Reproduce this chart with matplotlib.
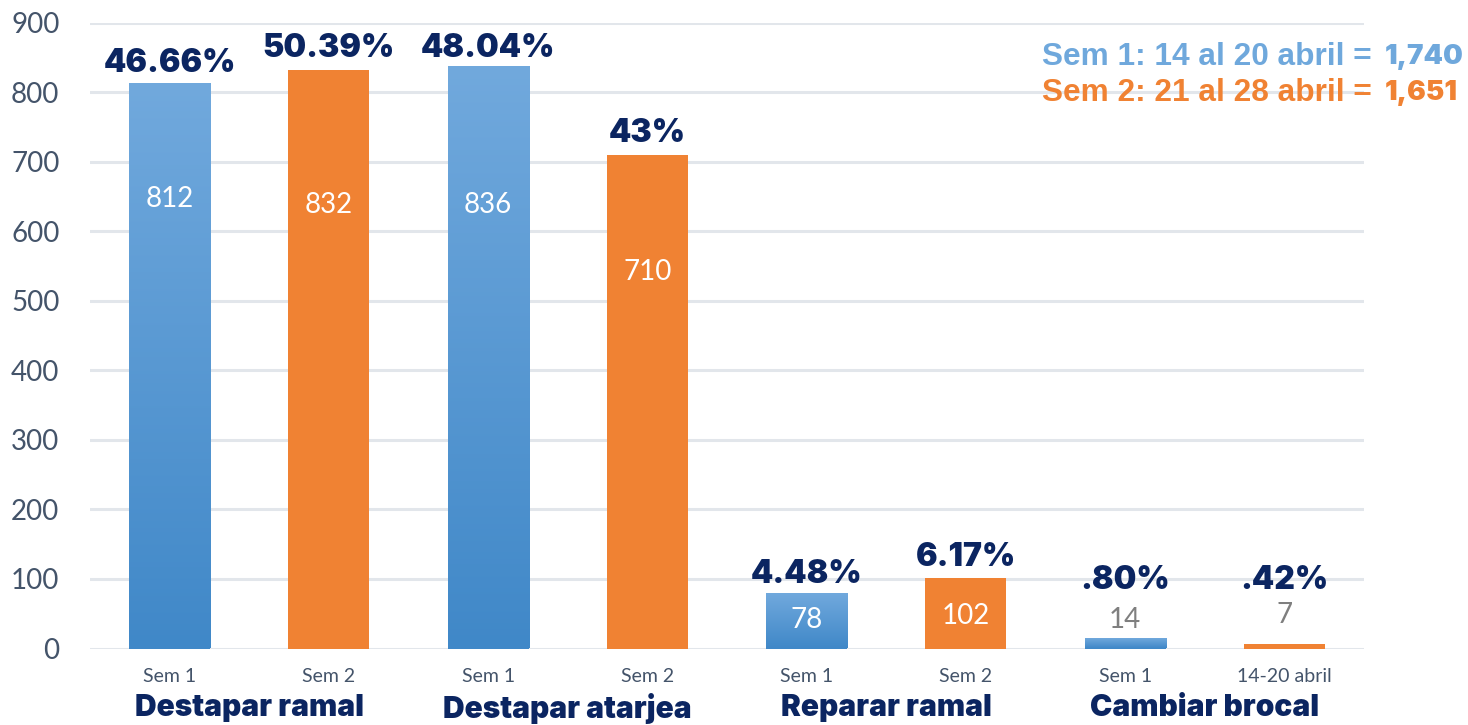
import numpy as np
import matplotlib
matplotlib.use("Agg")
import matplotlib.pyplot as plt
import matplotlib.transforms as mtransforms
from matplotlib.colors import LinearSegmentedColormap

# ---------------- data ----------------
tick_labels = ["Sem 1", "Sem 2", "Sem 1", "Sem 2", "Sem 1", "Sem 2", "Sem 1", "14-20 abril"]
values = [812, 832, 836, 710, 78, 102, 14, 7]
percents = ["46.66%", "50.39%", "48.04%", "43%", "4.48%", "6.17%", ".80%", ".42%"]
series = [1, 2, 1, 2, 1, 2, 1, 2]
categories = ["Destapar ramal", "Destapar atarjea", "Reparar ramal", "Cambiar brocal"]
legend_text = ["Sem 1: 14 al 20 abril = ", "Sem 2: 21 al 28 abril = "]
legend_totals = ["1,740", "1,651"]

# ---------------- layout (label positions, in data units) ----------------
value_label_y = [646, 638, 638, 542, 41, 47, 41, 48]
pct_label_y = [841, 863, 863, 741, 107, 131, 98, 98]
value_inside = [True, True, True, True, True, True, False, False]

NAVY = "#0b2561"
BLUE_TOP = "#71a9dd"
BLUE_BOT = "#4088c8"
ORANGE = "#f08233"
AXIS_TXT = "#44546a"
GRID = "#e2e6eb"
HEAVY = "Inter"

W, H = 1468, 725
fig = plt.figure(figsize=(W / 100, H / 100), dpi=100)
fig.patch.set_facecolor("white")
ax = fig.add_axes([90 / W, 1 - 648.5 / H, (1364 - 90) / W, (648.5 - 22.5) / H])
ax.set_facecolor("none")

x = np.arange(len(values))
bw = 0.51

ax.set_yticks(np.arange(0, 901, 100))
ax.grid(axis="y", color=GRID, linewidth=2.2, zorder=0)
ax.set_axisbelow(True)
for s in ax.spines.values():
    s.set_visible(False)
ax.tick_params(axis="both", length=0)
ax.tick_params(axis="y", pad=22, labelsize=20, labelcolor=AXIS_TXT)
ax.tick_params(axis="x", pad=14, labelsize=14, labelcolor=AXIS_TXT)
ax.set_xticks(x)
ax.set_xticklabels(tick_labels, fontfamily="Lato")

blue_cmap = LinearSegmentedColormap.from_list("b", [BLUE_BOT, BLUE_TOP])
grad = np.linspace(0, 1, 256).reshape(-1, 1)

bars = ax.bar(x, values, width=bw, color=[ORANGE if s == 2 else BLUE_BOT for s in series],
              zorder=2, linewidth=0)
for b, s in zip(bars, series):
    if s == 1:
        x0, y0 = b.get_x(), b.get_y()
        ax.imshow(grad, cmap=blue_cmap, origin="lower", aspect="auto",
                  extent=[x0, x0 + b.get_width(), y0, y0 + b.get_height()],
                  zorder=3, interpolation="bicubic")
ax.set_xlim(-0.5, len(values) - 0.5)
ax.set_ylim(0, 900)
for lab in ax.get_yticklabels():
    lab.set_fontfamily("Lato")

for xi, v, vy, inside in zip(x, values, value_label_y, value_inside):
    ax.text(xi, vy, str(v), ha="center", va="center", fontsize=20, fontfamily="Lato",
            color="white" if inside else "#7f7f7f", zorder=5)

for xi, p, py in zip(x, percents, pct_label_y):
    ax.text(xi, py, p, ha="center", va="center", fontsize=23, fontfamily=HEAVY,
            fontweight=900, color=NAVY, zorder=5)

trans = mtransforms.blended_transform_factory(ax.transData, fig.transFigure)
for i, c in enumerate(categories):
    ax.text(2 * i + 0.5, 1 - 708 / H, c, transform=trans, ha="center", va="center",
            fontsize=21.5, fontfamily=HEAVY, fontweight=900, color=NAVY)

leg_colors = ["#6fa8dc", ORANGE]
leg_y = [57, 93]
for t, tot, col, yy in zip(legend_text, legend_totals, leg_colors, leg_y):
    fig.text(1042 / W, 1 - yy / H, t, ha="left", va="center", fontsize=22.8,
             fontfamily="Liberation Sans", fontweight="bold", color=col)
    fig.text(1385 / W, 1 - yy / H, tot, ha="left", va="center", fontsize=20,
             fontfamily=HEAVY, fontweight=900, color=col)

fig.savefig("out.png", dpi=100)
